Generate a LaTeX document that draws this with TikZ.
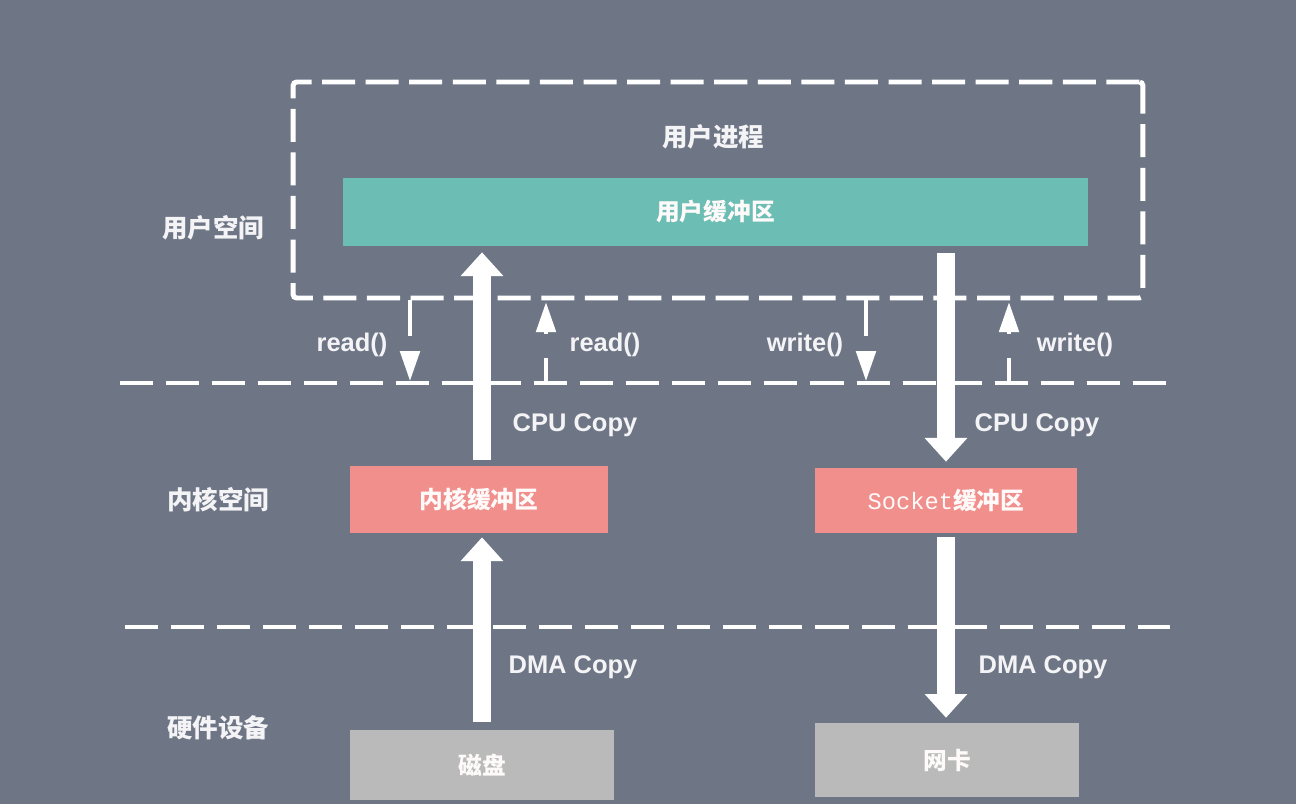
\documentclass[tikz,border=0pt]{standalone}
\usepackage{fontspec}
\setmainfont{Liberation Sans}
\newfontfamily\cjk{Noto Sans CJK SC}
\newfontfamily\mono{Liberation Mono}
\usetikzlibrary{arrows.meta}
\usetikzlibrary{positioning}
\definecolor{bggrey}{RGB}{110,118,134}
\definecolor{mteal}{RGB}{108,190,180}
\definecolor{msalmon}{RGB}{240,143,140}
\definecolor{mgrey}{RGB}{185,186,185}
\definecolor{mtext}{RGB}{244,244,246}

\tikzset{
  region/.style={mtext, font=\cjk\bfseries\fontsize{14.5}{17}\selectfont},
  call/.style={mtext, font=\bfseries\fontsize{14.5}{17}\selectfont},
  buf/.style={inner sep=0pt, text=white!92!pink, font=\cjk\bfseries\fontsize{13.5}{16}\selectfont},
  divider/.style={white, line width=2.8pt, dash pattern=on 18.8pt off 7.4pt},
  procbox/.style={draw=white, line width=2.8pt, rounded corners=2pt, dash pattern=on 18.8pt off 6pt, inner sep=0pt},
  bigarrow/.style={white, line width=10.2pt, -{Triangle[width=23.5pt,length=13.5pt]}},
  calldown/.style={white, line width=2.3pt, dash pattern=on 20pt off 8.5pt, -{Triangle[width=11pt,length=17pt]}},
  callup/.style={white, line width=2.3pt, dash pattern=on 14pt off 14pt, -{Triangle[width=11pt,length=17pt]}},
}

\begin{document}
\begin{tikzpicture}[x=0.02cm, y=-0.02cm]
  \fill [bggrey] (0,0) rectangle (1296,804);
  \useasboundingbox (0,0) rectangle (1296,804);

  % user space
  \node [procbox, minimum width=17cm, minimum height=4.32cm] (proc) at (718,190) {};
  \node [region] (procname) at (713,137) {用户进程};
  \node [buf, fill=mteal, minimum width=14.9cm, minimum height=1.36cm] (ubuf) at (715.5,212) {用户缓冲区};

  % kernel space
  \node [buf, fill=msalmon, minimum width=5.16cm, minimum height=1.34cm] (kbuf) at (479,499.5) {内核缓冲区};
  \node [buf, fill=msalmon, minimum width=5.26cm, minimum height=1.3cm] (sbuf) at (946,500.5) {{\mono\mdseries Socket}缓冲区};

  % hardware
  \node [buf, fill=mgrey, minimum width=5.28cm, minimum height=1.4cm] (disk) at (482,765) {磁盘};
  \node [buf, fill=mgrey, minimum width=5.28cm, minimum height=1.48cm] (nic) at (947,760) {网卡};

  % layer names
  \node [region] (uspace) at (213,228) {用户空间};
  \node [region] (kspace) at (218,500) {内核空间};
  \node [region] (hspace) at (218,728) {硬件设备};

  % dividers
  \coordinate (kl) at (120,383);
  \coordinate (kr) at (1170,383);
  \coordinate (hl) at (125,627);
  \coordinate (hr) at (1170,627);
  \draw [divider] (kl) -- (kr);
  \draw [divider] (hl) -- (hr);

  % copies
  \draw [bigarrow, shorten <=4.5pt, shorten >=2.3pt] (disk.north) -- (disk.north |- kbuf.south);
  \draw [bigarrow, shorten <=3.4pt, shorten >=3.4pt] (disk.north |- kbuf.north) -- (disk.north |- ubuf.south);
  \draw [bigarrow, shorten <=4pt, shorten >=3.4pt] (sbuf.north |- ubuf.south) -- (sbuf.north);
  \draw [bigarrow, shorten <=2.3pt, shorten >=2.8pt] (sbuf.south) -- (sbuf.south |- nic.north);

  \node [call] (cpu1) at (575,425) {CPU Copy};
  \node [call] (cpu2) at (1037,425) {CPU Copy};
  \node [call] (dma1) at (573,667) {DMA Copy};
  \node [call] (dma2) at (1043,667) {DMA Copy};

  % system calls
  \coordinate (rd1) at (410,381);
  \coordinate (rd2) at (546,383);
  \coordinate (wr1) at (866,381);
  \coordinate (wr2) at (1009,383);
  \draw [calldown] (rd1 |- proc.south) -- (rd1);
  \draw [callup] (rd2) -- ([yshift=-1pt]rd2 |- proc.south);
  \draw [calldown] (wr1 |- proc.south) -- (wr1);
  \draw [callup] (wr2) -- ([yshift=-1pt]wr2 |- proc.south);

  \node [call] (rdl1) at (352,345) {read()};
  \node [call] (rdl2) at (605,345) {read()};
  \node [call] (wrl1) at (805,345) {write()};
  \node [call] (wrl2) at (1075,345) {write()};
\end{tikzpicture}
\end{document}
